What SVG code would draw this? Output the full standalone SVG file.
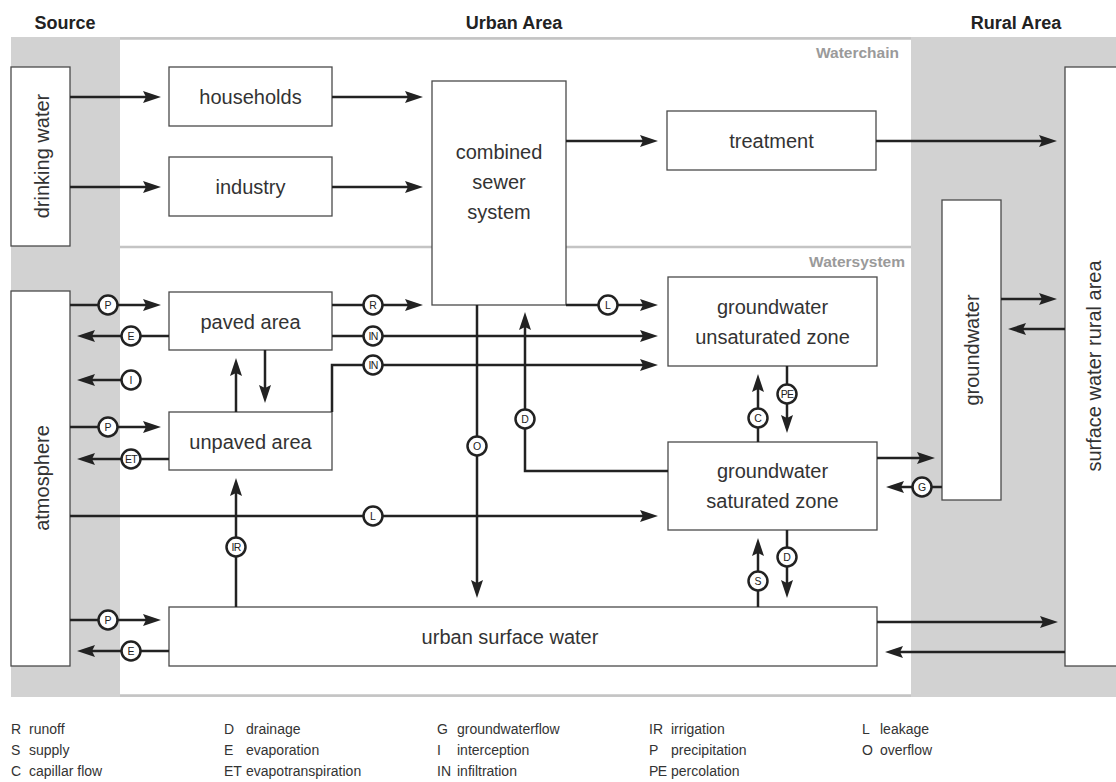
<svg xmlns="http://www.w3.org/2000/svg" width="1116" height="782" viewBox="0 0 1116 782">
<style>
.box{fill:#fff;stroke:#4a4a4a;stroke-width:1.3}
.t{font-family:"Liberation Sans",Arial,sans-serif;font-size:20px;fill:#333;text-anchor:middle;dominant-baseline:central}
.hd{font-family:"Liberation Sans",Arial,sans-serif;font-size:18px;font-weight:bold;fill:#222;text-anchor:middle}
.zone{font-family:"Liberation Sans",Arial,sans-serif;font-size:15.5px;font-weight:bold;fill:#9a9a9a;text-anchor:end}
.c path{fill:none;stroke:#222;stroke-width:2.5;marker-end:url(#ah)}
.lb circle{fill:#fff;stroke:#222;stroke-width:2.5}
.lb text{font-family:"Liberation Sans",Arial,sans-serif;font-size:10.5px;fill:#222;text-anchor:middle;dominant-baseline:central}
.lg{font-family:"Liberation Sans",Arial,sans-serif;font-size:14px;fill:#333}
</style>
<defs>
<marker id="ah" viewBox="0 0 18 12" markerWidth="18" markerHeight="12" refX="10" refY="6" markerUnits="userSpaceOnUse" orient="auto">
<path d="M0,0 L18,6 L0,12 L3,6 Z" fill="#222"/>
</marker>
</defs>
<rect width="1116" height="782" fill="#fff"/>
<g id="background">
<rect x="11" y="37" width="1110" height="660" fill="#d2d2d2"/>
<rect x="120" y="39" width="791" height="656" fill="#fff"/>
<path d="M120,38.5 H911 M120,247 H911 M120,695.5 H911" stroke="#c4c4c4" stroke-width="2.5" fill="none"/>
<text class="hd" x="65" y="29">Source</text>
<text class="hd" x="514" y="29">Urban Area</text>
<text class="hd" x="1016" y="29">Rural Area</text>
<text class="zone" x="899" y="58">Waterchain</text>
<text class="zone" x="905" y="267">Watersystem</text>
</g>
<g id="n-drinking"><rect class="box" x="11" y="67" width="59" height="179"/><text class="t" transform="translate(42,156) rotate(-90)">drinking water</text></g>
<g id="n-households"><rect class="box" x="169" y="67" width="163" height="59"/><text class="t" x="250.5" y="97">households</text></g>
<g id="n-industry"><rect class="box" x="169" y="157" width="163" height="59"/><text class="t" x="250.5" y="187">industry</text></g>
<g id="n-sewer"><rect class="box" x="432" y="81" width="134" height="224"/><text class="t" x="499" y="152">combined</text><text class="t" x="499" y="182">sewer</text><text class="t" x="499" y="212">system</text></g>
<g id="n-treatment"><rect class="box" x="667" y="111" width="209" height="59"/><text class="t" x="771.5" y="141">treatment</text></g>
<g id="n-rural"><rect class="box" x="1065" y="67" width="60" height="599"/><text class="t" transform="translate(1094,366) rotate(-90)">surface water rural area</text></g>
<g id="n-groundwater"><rect class="box" x="942" y="200" width="59" height="300"/><text class="t" transform="translate(972,350) rotate(-90)">groundwater</text></g>
<g id="n-atmosphere"><rect class="box" x="11" y="291" width="59" height="375"/><text class="t" transform="translate(42,478) rotate(-90)">atmosphere</text></g>
<g id="n-paved"><rect class="box" x="169" y="292" width="163" height="58"/><text class="t" x="250.5" y="322">paved area</text></g>
<g id="n-unpaved"><rect class="box" x="169" y="412" width="163" height="58"/><text class="t" x="250.5" y="442">unpaved area</text></g>
<g id="n-unsat"><rect class="box" x="668" y="277" width="209" height="89"/><text class="t" x="772.5" y="307">groundwater</text><text class="t" x="772.5" y="337">unsaturated zone</text></g>
<g id="n-sat"><rect class="box" x="668" y="442" width="209" height="88"/><text class="t" x="772.5" y="471">groundwater</text><text class="t" x="772.5" y="501">saturated zone</text></g>
<g id="n-urbansw"><rect class="box" x="169" y="607" width="708" height="59"/><text class="t" x="510" y="637">urban surface water</text></g>
<g id="connectors" class="c">
<path d="M70,97 H153"/>
<path d="M70,187 H153"/>
<path d="M332,97 H415"/>
<path d="M332,187 H415"/>
<path d="M566,141 H650"/>
<path d="M876,141 H1049"/>
<path d="M70,305 H153"/>
<path d="M169,336 H85"/>
<path d="M131,380 H85"/>
<path d="M70,427 H153"/>
<path d="M169,459 H85"/>
<path d="M265,350 V395"/>
<path d="M236,412 V366"/>
<path d="M332,305 H415"/>
<path d="M332,336 H650"/>
<path d="M332,412 V365 H650"/>
<path d="M566,305 H650"/>
<path d="M477,305 V590"/>
<path d="M668,471 H525 V320"/>
<path d="M758,442 V382"/>
<path d="M787,366 V425"/>
<path d="M70,516 H650"/>
<path d="M877,458 H927"/>
<path d="M942,487 H894"/>
<path d="M1001,299 H1049"/>
<path d="M1065,329 H1016"/>
<path d="M236,607 V486"/>
<path d="M758,607 V546"/>
<path d="M787,530 V590"/>
<path d="M70,620 H153"/>
<path d="M169,651 H85"/>
<path d="M877,622 H1050"/>
<path d="M1065,652 H893"/>
</g>
<g id="flow-labels" class="lb">
<circle cx="108" cy="305" r="9.5"/><text x="108" y="305">P</text>
<circle cx="131" cy="336" r="9.5"/><text x="131" y="336">E</text>
<circle cx="131" cy="380" r="9.5"/><text x="131" y="380">I</text>
<circle cx="108" cy="427" r="9.5"/><text x="108" y="427">P</text>
<circle cx="131" cy="459" r="9.5"/><text x="131" y="459" letter-spacing="-0.8">ET</text>
<circle cx="373" cy="305" r="9.5"/><text x="373" y="305">R</text>
<circle cx="373" cy="336" r="9.5"/><text x="373" y="336" letter-spacing="-0.8">IN</text>
<circle cx="373" cy="365" r="9.5"/><text x="373" y="365" letter-spacing="-0.8">IN</text>
<circle cx="608" cy="305" r="9.5"/><text x="608" y="305">L</text>
<circle cx="477" cy="446" r="9.5"/><text x="477" y="446">O</text>
<circle cx="525" cy="419" r="9.5"/><text x="525" y="419">D</text>
<circle cx="758" cy="418" r="9.5"/><text x="758" y="418">C</text>
<circle cx="787" cy="394" r="9.5"/><text x="787" y="394" letter-spacing="-0.8">PE</text>
<circle cx="373" cy="516" r="9.5"/><text x="373" y="516">L</text>
<circle cx="922" cy="487" r="9.5"/><text x="922" y="487">G</text>
<circle cx="236" cy="547" r="9.5"/><text x="236" y="547" letter-spacing="-0.8">IR</text>
<circle cx="758" cy="581" r="9.5"/><text x="758" y="581">S</text>
<circle cx="787" cy="557" r="9.5"/><text x="787" y="557">D</text>
<circle cx="108" cy="620" r="9.5"/><text x="108" y="620">P</text>
<circle cx="131" cy="651" r="9.5"/><text x="131" y="651">E</text>
</g>
<g id="legend" class="lg">
<text x="11" y="734">R</text><text x="29" y="734">runoff</text>
<text x="11" y="755">S</text><text x="29" y="755">supply</text>
<text x="11" y="776">C</text><text x="29" y="776">capillar flow</text>
<text x="224" y="734">D</text><text x="246" y="734">drainage</text>
<text x="224" y="755">E</text><text x="246" y="755">evaporation</text>
<text x="224" y="776">ET</text><text x="246" y="776">evapotranspiration</text>
<text x="437" y="734">G</text><text x="457" y="734">groundwaterflow</text>
<text x="437" y="755">I</text><text x="457" y="755">interception</text>
<text x="437" y="776">IN</text><text x="457" y="776">infiltration</text>
<text x="649" y="734">IR</text><text x="671" y="734">irrigation</text>
<text x="649" y="755">P</text><text x="671" y="755">precipitation</text>
<text x="649" y="776" letter-spacing="-0.5">PE</text><text x="671" y="776">percolation</text>
<text x="862" y="734">L</text><text x="880" y="734">leakage</text>
<text x="862" y="755">O</text><text x="880" y="755">overflow</text>
</g>
</svg>
